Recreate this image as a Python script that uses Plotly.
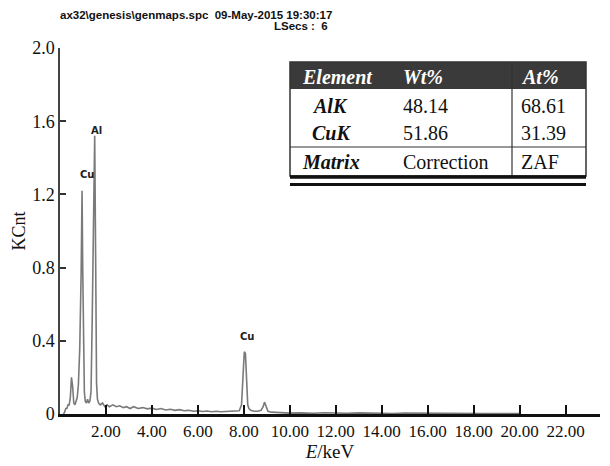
import plotly.graph_objects as go

# ---- data ----
energy_kev = [0.15, 0.2, 0.25, 0.3, 0.35, 0.4, 0.45, 0.5, 0.55, 0.6, 0.65, 0.7, 0.75, 0.8,
              0.86, 0.92, 0.96, 0.99, 1.02, 1.06, 1.1, 1.15, 1.2, 1.25, 1.3, 1.35, 1.4,
              1.45, 1.51, 1.55, 1.59, 1.63, 1.68, 1.75, 1.85, 1.95, 2.05, 2.15, 2.3, 2.45,
              2.6, 2.75, 2.9, 3.05, 3.2, 3.4, 3.6, 3.8, 4.0, 4.2, 4.4, 4.6, 4.8, 5.0, 5.2,
              5.4, 5.6, 5.8, 6.0, 6.2, 6.4, 6.6, 6.8, 7.0, 7.2, 7.4, 7.6, 7.8, 7.9, 7.96,
              8.02, 8.07, 8.12, 8.17, 8.22, 8.3, 8.45, 8.6, 8.75, 8.84, 8.9, 8.96, 9.05,
              9.2, 9.4, 9.7, 10.0, 10.5, 11.0, 11.5, 12.0, 12.5, 13.0, 13.5, 14.0, 14.5,
              15.0, 15.5, 16.0, 16.5, 17.0, 17.5, 18.0, 18.5, 19.0, 19.5, 20.0]
kcnt = [0.0, 0.01, 0.03, 0.03, 0.05, 0.05, 0.09, 0.20, 0.15, 0.06, 0.05, 0.07, 0.09, 0.16,
        0.36, 0.77, 1.22, 0.78, 0.36, 0.12, 0.07, 0.06, 0.08, 0.06, 0.07, 0.12, 0.50,
        0.87, 1.52, 0.87, 0.17, 0.08, 0.06, 0.05, 0.06, 0.04, 0.05, 0.04, 0.05, 0.04,
        0.045, 0.035, 0.04, 0.03, 0.04, 0.03, 0.035, 0.028, 0.032, 0.025, 0.03, 0.022,
        0.026, 0.02, 0.024, 0.018, 0.02, 0.015, 0.018, 0.014, 0.016, 0.012, 0.015, 0.012,
        0.014, 0.012, 0.015, 0.018, 0.05, 0.20, 0.34, 0.33, 0.18, 0.05, 0.03, 0.02, 0.015,
        0.015, 0.02, 0.04, 0.065, 0.04, 0.015, 0.01, 0.008, 0.006, 0.005, 0.006, 0.004,
        0.007, 0.005, 0.004, 0.006, 0.004, 0.005, 0.003, 0.005, 0.004, 0.003, 0.004,
        0.003, 0.004, 0.003, 0.002, 0.003, 0.002, 0.002]

peak_labels = ["Cu", "Al", "Cu"]
peak_energy = [1.17, 1.58, 8.12]
peak_height = [1.31, 1.55, 0.425]

x_tickvals = [2, 4, 6, 8, 10, 12, 14, 16, 18, 20, 22]
x_ticktext = ["2.00", "4.00", "6.00", "8.00", "10.00", "12.00", "14.00", "16.00",
              "18.00", "20.00", "22.00"]
y_tickvals = [0, 0.4, 0.8, 1.2, 1.6, 2.0]
y_ticktext = ["0", "0.4", "0.8", "1.2", "1.6", "2.0"]

table_header = ["Element", "Wt%", "At%"]
table_rows = [["AlK", "48.14", "68.61"], ["CuK", "51.86", "31.39"]]
table_footer = ["Matrix", "Correction", "ZAF"]

title_line1 = "ax32\\genesis\\genmaps.spc  09-May-2015 19:30:17"
title_line2 = "LSecs :  6"

# ---- layout geometry (window pixels; the page body adds an 8 px offset) ----
OFF = 8
WIN_W, WIN_H = 610, 466
L, R, T, B = 60, 600, 48, 414
PW, PH = R - L, B - T


def px(x):
    return (x - L) / PW


def py(y):
    return (B - y) / PH


SERIF = "Liberation Serif"
SANS = "Liberation Sans"

fig = go.Figure()
fig.add_trace(go.Scatter(x=energy_kev, y=kcnt, mode="lines",
                         line=dict(color="#7a7a7a", width=1.6), showlegend=False,
                         hoverinfo="skip"))

annotations = []
for lab, ex, ey in zip(peak_labels, peak_energy, peak_height):
    annotations.append(dict(x=ex, y=ey, xref="x", yref="y", text="<b>%s</b>" % lab,
                            showarrow=False, font=dict(family="DejaVu Sans", size=10,
                                                       color="#222")))

annotations.append(dict(x=px(58), y=py(15), xref="paper", yref="paper",
                        xanchor="left", yanchor="middle", text="<b>%s</b>" % title_line1,
                        showarrow=False, font=dict(family=SANS, size=11.5, color="#111")))
annotations.append(dict(x=px(330), y=py(26), xref="paper", yref="paper",
                        xanchor="right", yanchor="middle", text="<b>%s</b>" % title_line2,
                        showarrow=False, font=dict(family=SANS, size=11.5, color="#111")))

shapes = []
tl, tr, tt = 290, 586, 62
hb, rd, tb = 89, 147, 176
vsplit = 512
shapes.append(dict(type="rect", xref="paper", yref="paper", x0=px(tl), x1=px(tr),
                   y0=py(tt), y1=py(hb), fillcolor="#3a3a3a", line=dict(width=0)))
shapes.append(dict(type="rect", xref="paper", yref="paper", x0=px(tl), x1=px(tr),
                   y0=py(tt), y1=py(tb), fillcolor="rgba(0,0,0,0)",
                   line=dict(color="#333", width=1.5)))
shapes.append(dict(type="line", xref="paper", yref="paper", x0=px(tl), x1=px(tr),
                   y0=py(rd), y1=py(rd), line=dict(color="#333", width=1.2)))
shapes.append(dict(type="line", xref="paper", yref="paper", x0=px(vsplit), x1=px(vsplit),
                   y0=py(tt), y1=py(tb), line=dict(color="#333", width=1.2)))
shapes.append(dict(type="line", xref="paper", yref="paper", x0=px(tl), x1=px(tr),
                   y0=py(177), y1=py(177), line=dict(color="#111", width=3.5)))
shapes.append(dict(type="line", xref="paper", yref="paper", x0=px(tl), x1=px(tr),
                   y0=py(184.5), y1=py(184.5), line=dict(color="#111", width=3)))

col_x = [300, 401, 519]
row_y = [77, 106, 133, 162]


def cell(xpix, ypix, text, color="#111", bold=False, italic=False, size=20):
    t = text
    if italic:
        t = "<i>%s</i>" % t
    if bold:
        t = "<b>%s</b>" % t
    annotations.append(dict(x=px(xpix), y=py(ypix), xref="paper", yref="paper",
                            xanchor="left", yanchor="middle", text=t, showarrow=False,
                            font=dict(family=SERIF, size=size, color=color)))


for i, h in enumerate(table_header):
    cell(col_x[i], row_y[0], h, color="white", bold=True, italic=True)
for r, row in enumerate(table_rows):
    for i, v in enumerate(row):
        if i == 0:
            cell(col_x[0] + 10, row_y[r + 1], v, bold=True, italic=True)
        else:
            cell(col_x[i], row_y[r + 1], v)
for i, v in enumerate(table_footer):
    cell(col_x[i], row_y[3], v, bold=(i == 0), italic=(i == 0))

fig.update_layout(
    width=WIN_W - OFF, height=WIN_H - OFF,
    margin=dict(l=L - OFF, r=WIN_W - R, t=T - OFF, b=WIN_H - B, autoexpand=False),
    paper_bgcolor="white", plot_bgcolor="white",
    showlegend=False,
    annotations=annotations,
    shapes=shapes,
    xaxis=dict(range=[0, 23.5], tickvals=x_tickvals, ticktext=x_ticktext,
               ticks="inside", ticklen=9, tickwidth=1.5, tickcolor="#111",
               showline=True, linecolor="#111", linewidth=2.5, showgrid=False,
               zeroline=False, tickfont=dict(family=SERIF, size=17, color="#111"),
               title=dict(text="<i>E</i>/keV", font=dict(family=SERIF, size=19, color="#111"),
                          standoff=4)),
    yaxis=dict(range=[0, 2.0], tickvals=y_tickvals, ticktext=y_ticktext,
               ticks="inside", ticklen=6, tickwidth=1.5, tickcolor="#333",
               showline=True, linecolor="#444", linewidth=1.5, showgrid=False,
               zeroline=False, tickfont=dict(family=SERIF, size=18, color="#111"),
               title=dict(text="KCnt", font=dict(family=SERIF, size=18, color="#111"),
                          standoff=2)),
)

fig.write_html("out.html")
